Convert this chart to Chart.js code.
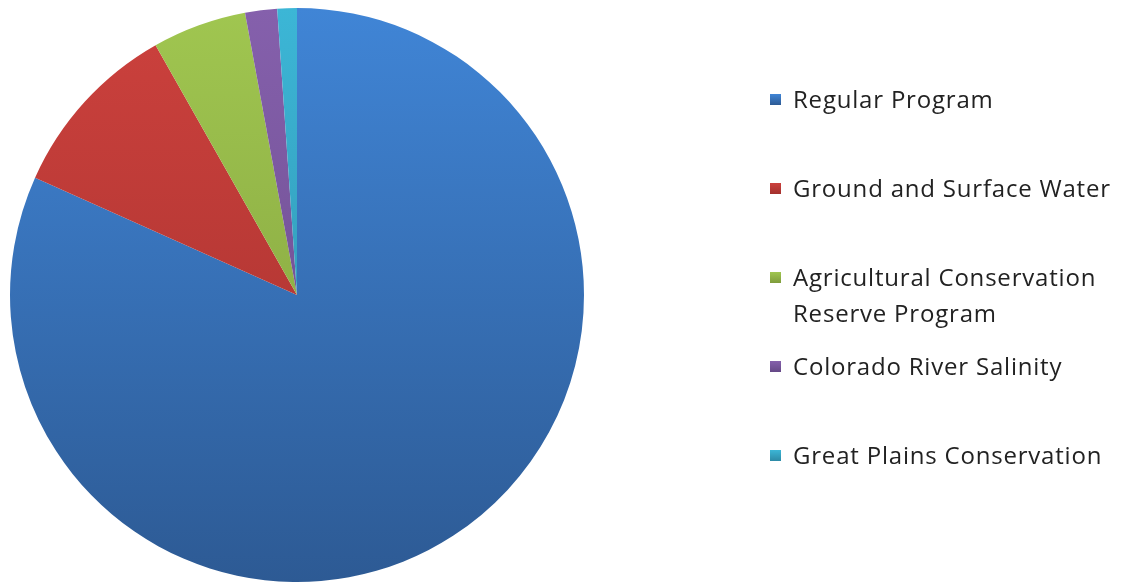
<!DOCTYPE html>
<html>
<head>
<meta charset="utf-8">
<script src="https://cdn.jsdelivr.net/npm/chart.js@4.4.0/dist/chart.umd.min.js"></script>
<style>
  html, body { margin: 0; padding: 0; background: #fff; }
  #wrap { position: relative; width: 1122px; height: 584px; }
  #legend { position: absolute; left: 0; top: 0; width: 1122px; height: 584px; pointer-events: none;
            font-family: "Open Sans", Lato, sans-serif; font-size: 24px; letter-spacing: 0.8px; color: #222; }
  .item { position: absolute; left: 770px; display: flex; align-items: flex-start; }
  .box { width: 11px; height: 11px; margin-top: 13px; margin-right: 12px; flex: none; }
  .txt { line-height: 36px; max-width: 340px; }
</style>
</head>
<body>
<div id="wrap">
  <canvas id="pieChart" width="1122" height="584"></canvas>
  <div id="legend"></div>
</div>
<script>
const categories = ['Regular Program', 'Ground and Surface Water', 'Agricultural Conservation Reserve Program', 'Colorado River Salinity', 'Great Plains Conservation'];
const shares = [81.7, 10.1, 5.3, 1.8, 1.1];
const topColors = ['#4085d6', '#cc413d', '#a0c650', '#8560ac', '#3cb6d6'];
const bottomColors = ['#2d5a94', '#a3302d', '#7f9c3c', '#654886', '#2d8aa6'];

function sliceGradient(context) {
    const chart = context.chart;
    const area = chart.chartArea;
    if (!area) return topColors[context.dataIndex];
    const g = chart.ctx.createLinearGradient(0, area.top, 0, area.bottom);
    g.addColorStop(0, topColors[context.dataIndex]);
    g.addColorStop(1, bottomColors[context.dataIndex]);
    return g;
}

new Chart(document.getElementById('pieChart').getContext('2d'), {
    type: 'pie',
    data: {
        labels: categories,
        datasets: [{
            data: shares,
            backgroundColor: sliceGradient,
            borderWidth: 0,
        }],
    },
    options: {
        responsive: false,
        animation: false,
        layout: { padding: { left: 10, right: 538, top: 8, bottom: 2 } },
        plugins: {
            legend: { display: false },
            tooltip: { enabled: false },
        },
    },
});

// legend on the right, one row every 89px
const legend = document.getElementById('legend');
categories.forEach((name, i) => {
    const item = document.createElement('div');
    item.className = 'item';
    item.style.top = (99 + 89 * i - 18) + 'px';
    const box = document.createElement('div');
    box.className = 'box';
    box.style.background = 'linear-gradient(' + topColors[i] + ',' + bottomColors[i] + ')';
    const txt = document.createElement('div');
    txt.className = 'txt';
    txt.textContent = name;
    item.appendChild(box);
    item.appendChild(txt);
    legend.appendChild(item);
});
</script>
</body>
</html>
